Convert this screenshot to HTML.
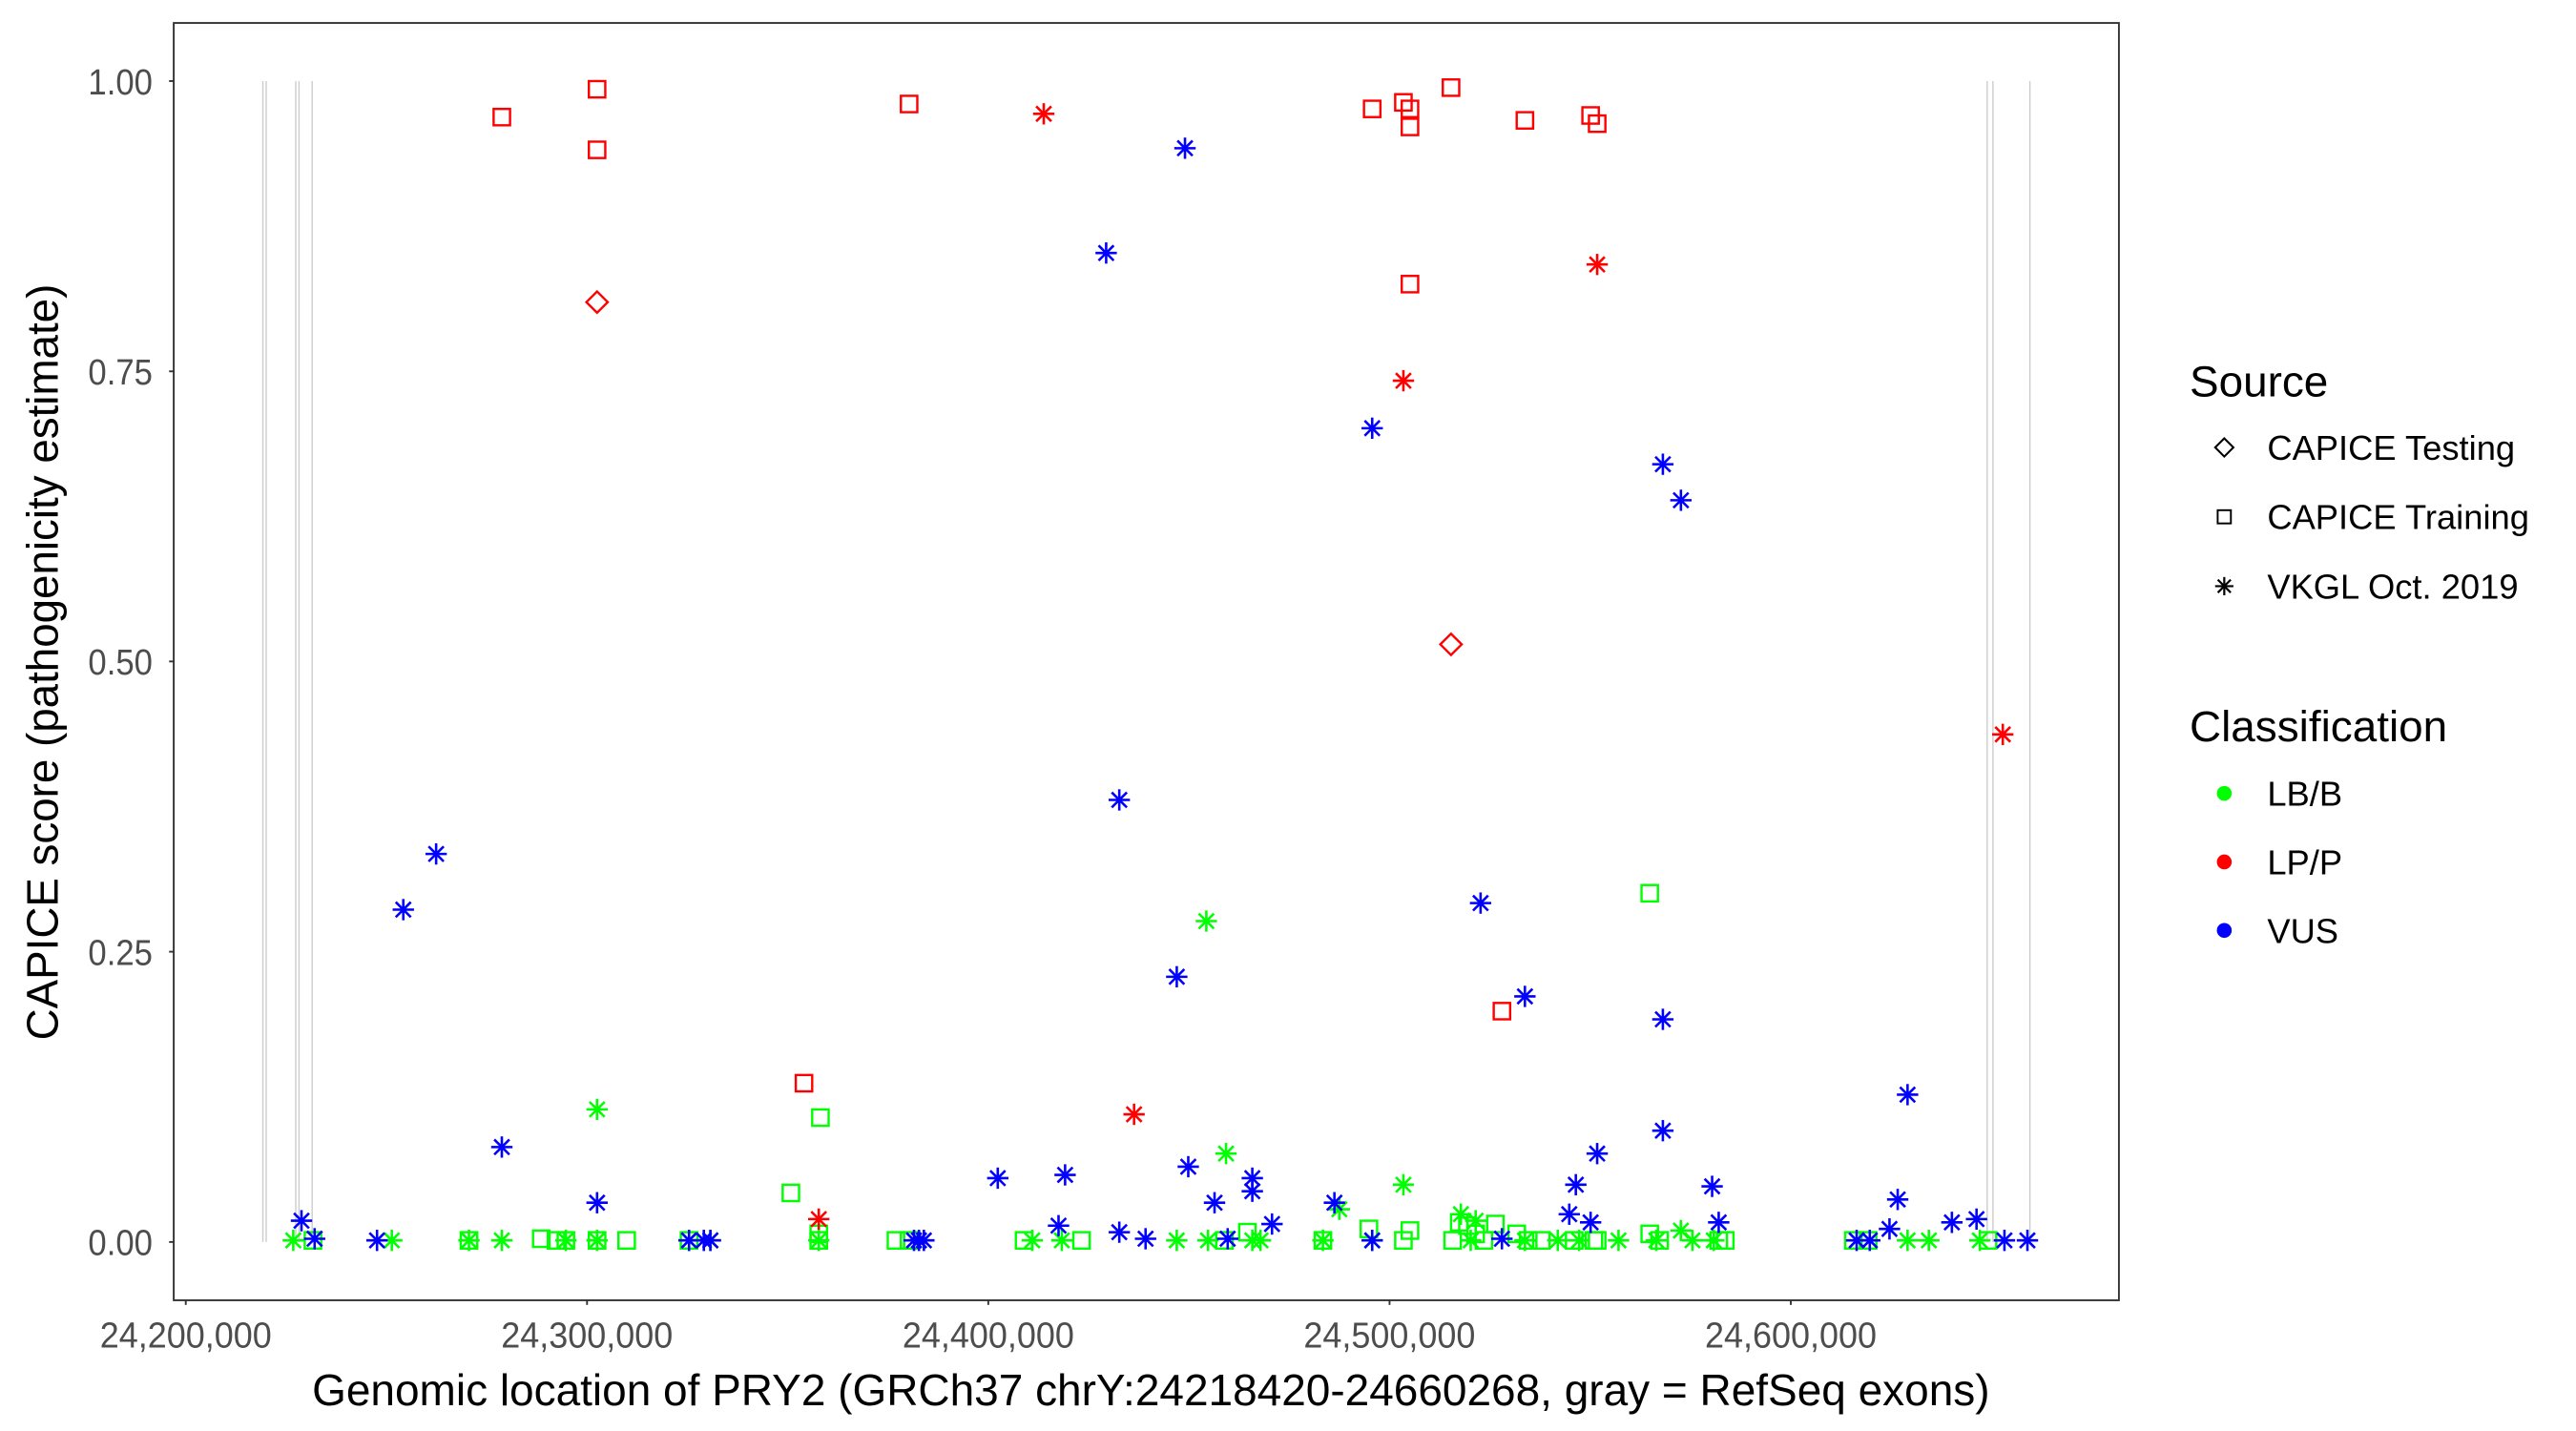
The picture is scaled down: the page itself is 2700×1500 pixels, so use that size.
<!DOCTYPE html>
<html><head><meta charset="utf-8"><style>
html,body{margin:0;padding:0;background:#fff;}
svg{display:block;font-family:"Liberation Sans",Arial,sans-serif;}
</style></head><body>
<svg width="2700" height="1500" viewBox="0 0 1560 866.67" xmlns="http://www.w3.org/2000/svg">
<defs>
<g id="sq" fill="none"><rect x="-5" y="-5" width="10" height="10" stroke-width="1.4"/></g>
<g id="di" fill="none"><polygon points="0,-6.5 6.5,0 0,6.5 -6.5,0" stroke-width="1.4"/></g>
<g id="as" stroke-width="1.5"><line x1="0" y1="-6.5" x2="0" y2="6.5"/><line x1="-6.5" y1="0" x2="6.5" y2="0"/><line x1="-4.6" y1="-4.6" x2="4.6" y2="4.6"/><line x1="-4.6" y1="4.6" x2="4.6" y2="-4.6"/></g>
</defs>
<rect width="1560" height="866.67" fill="#fff"/>
<g transform="matrix(0.9945 0 0 1 0.58 0)">
<g stroke="#cccccc" stroke-width="0.8">
<line x1="159.5" y1="49.1" x2="159.5" y2="752.2"/><line x1="161.5" y1="49.1" x2="161.5" y2="752.2"/>
<line x1="179.5" y1="49.1" x2="179.5" y2="752.2"/><line x1="181.5" y1="49.1" x2="181.5" y2="752.2"/>
<line x1="189.5" y1="49.1" x2="189.5" y2="752.2"/>
<line x1="1209.5" y1="49.1" x2="1209.5" y2="752.2"/><line x1="1213" y1="49.1" x2="1213" y2="752.2"/>
<line x1="1235.5" y1="49.1" x2="1235.5" y2="752.2"/>
</g>
</g>
<g transform="matrix(0.9945 0 0 0.9917 0.58 1.5)">
<g stroke="#00ff00">
<use href="#sq" x="1004" y="544"/><use href="#sq" x="499" y="681"/><use href="#sq" x="481" y="727"/>
<use href="#sq" x="285" y="756"/><use href="#sq" x="329" y="755"/><use href="#sq" x="338" y="756"/><use href="#sq" x="344" y="756"/><use href="#sq" x="363" y="756"/><use href="#sq" x="381" y="756"/><use href="#sq" x="419" y="756"/><use href="#sq" x="498" y="752"/><use href="#sq" x="498" y="756"/><use href="#sq" x="545" y="756"/><use href="#sq" x="553" y="756"/><use href="#sq" x="623" y="756"/><use href="#sq" x="658" y="756"/><use href="#sq" x="745" y="756"/><use href="#sq" x="759" y="751"/><use href="#sq" x="805" y="756"/><use href="#sq" x="833" y="749"/><use href="#sq" x="858" y="750"/><use href="#sq" x="854" y="756"/><use href="#sq" x="884" y="756"/><use href="#sq" x="888" y="745"/><use href="#sq" x="893" y="747"/><use href="#sq" x="898" y="752"/><use href="#sq" x="903" y="756"/><use href="#sq" x="910" y="746"/><use href="#sq" x="923" y="752"/><use href="#sq" x="930" y="756"/><use href="#sq" x="938" y="756"/><use href="#sq" x="958" y="756"/><use href="#sq" x="970" y="756"/><use href="#sq" x="1004" y="752"/><use href="#sq" x="1010" y="756"/><use href="#sq" x="1050" y="756"/><use href="#sq" x="1210" y="756"/><use href="#sq" x="1128" y="756"/><use href="#sq" x="1137" y="756"/><use href="#sq" x="1046" y="756"/><use href="#sq" x="190" y="756"/><use href="#sq" x="972" y="756"/>
</g>
<g stroke="#00ff00">
<use href="#as" x="363" y="676"/><use href="#as" x="734" y="561"/><use href="#as" x="746" y="703"/><use href="#as" x="854" y="722"/><use href="#as" x="815" y="737"/><use href="#as" x="889" y="740"/><use href="#as" x="898" y="744"/><use href="#as" x="1023" y="750"/><use href="#as" x="178" y="756"/><use href="#as" x="238" y="756"/><use href="#as" x="285" y="756"/><use href="#as" x="305" y="756"/><use href="#as" x="344" y="756"/><use href="#as" x="363" y="756"/><use href="#as" x="419" y="756"/><use href="#as" x="432" y="756"/><use href="#as" x="498" y="756"/><use href="#as" x="628" y="756"/><use href="#as" x="646" y="756"/><use href="#as" x="716" y="756"/><use href="#as" x="735" y="756"/><use href="#as" x="767" y="756"/><use href="#as" x="805" y="756"/><use href="#as" x="835" y="756"/><use href="#as" x="895" y="756"/><use href="#as" x="928" y="756"/><use href="#as" x="948" y="756"/><use href="#as" x="985" y="756"/><use href="#as" x="1030" y="756"/><use href="#as" x="1161" y="756"/><use href="#as" x="1174" y="756"/><use href="#as" x="1205" y="756"/><use href="#as" x="1043" y="756"/><use href="#as" x="762" y="756"/><use href="#as" x="1008" y="756"/><use href="#as" x="961" y="756"/>
</g>
<g stroke="#0000ff">
<use href="#as" x="721" y="89"/><use href="#as" x="673" y="153"/><use href="#as" x="835" y="260"/><use href="#as" x="1012" y="282"/><use href="#as" x="1023" y="304"/><use href="#as" x="681" y="487"/><use href="#as" x="265" y="520"/><use href="#as" x="245" y="554"/><use href="#as" x="901" y="550"/><use href="#as" x="716" y="595"/><use href="#as" x="928" y="607"/><use href="#as" x="1012" y="621"/><use href="#as" x="305" y="699"/><use href="#as" x="363" y="733"/><use href="#as" x="1161" y="667"/><use href="#as" x="1012" y="689"/><use href="#as" x="972" y="703"/><use href="#as" x="607" y="718"/><use href="#as" x="648" y="716"/><use href="#as" x="723" y="711"/><use href="#as" x="762" y="718"/><use href="#as" x="762" y="726"/><use href="#as" x="739" y="733"/><use href="#as" x="959" y="722"/><use href="#as" x="1042" y="723"/><use href="#as" x="812" y="733"/><use href="#as" x="1155" y="731"/><use href="#as" x="644" y="747"/><use href="#as" x="955" y="740"/><use href="#as" x="968" y="745"/><use href="#as" x="1046" y="745"/><use href="#as" x="774" y="746"/><use href="#as" x="183" y="744"/><use href="#as" x="1150" y="749"/><use href="#as" x="1188" y="745"/><use href="#as" x="1203" y="743"/><use href="#as" x="681" y="751"/><use href="#as" x="191" y="755"/><use href="#as" x="229" y="756"/><use href="#as" x="419" y="756"/><use href="#as" x="428" y="756"/><use href="#as" x="432" y="756"/><use href="#as" x="556" y="756"/><use href="#as" x="559" y="756"/><use href="#as" x="562" y="756"/><use href="#as" x="697" y="755"/><use href="#as" x="747" y="755"/><use href="#as" x="835" y="756"/><use href="#as" x="914" y="755"/><use href="#as" x="1130" y="756"/><use href="#as" x="1138" y="756"/><use href="#as" x="1220" y="756"/><use href="#as" x="1234" y="756"/>
</g>
<g stroke="#ff0000">
<use href="#sq" x="305" y="70"/><use href="#sq" x="363" y="53"/><use href="#sq" x="363" y="90"/><use href="#sq" x="553" y="62"/><use href="#sq" x="835" y="65"/><use href="#sq" x="854" y="61"/><use href="#sq" x="858" y="65"/><use href="#sq" x="858" y="76"/><use href="#sq" x="883" y="52"/><use href="#sq" x="928" y="72"/><use href="#sq" x="968" y="69"/><use href="#sq" x="972" y="74"/><use href="#sq" x="858" y="172"/><use href="#sq" x="914" y="616"/><use href="#sq" x="489" y="660"/>
<use href="#di" x="363" y="183"/><use href="#di" x="883" y="392"/>
<use href="#as" x="635" y="68"/><use href="#as" x="972" y="160"/><use href="#as" x="854" y="231"/><use href="#as" x="690" y="679"/><use href="#as" x="1219" y="447"/><use href="#as" x="498" y="743"/>
</g>
</g>
<rect x="105.2" y="13.9" width="1178" height="773.6" fill="none" stroke="#333" stroke-width="1.1"/>
<g stroke="#333" stroke-width="1.1">
<line x1="102.4" y1="49.1" x2="105.2" y2="49.1"/><line x1="102.4" y1="224.9" x2="105.2" y2="224.9"/><line x1="102.4" y1="400.6" x2="105.2" y2="400.6"/><line x1="102.4" y1="576.4" x2="105.2" y2="576.4"/><line x1="102.4" y1="752.2" x2="105.2" y2="752.2"/>
<line x1="112.5" y1="787.5" x2="112.5" y2="790.3"/><line x1="355.5" y1="787.5" x2="355.5" y2="790.3"/><line x1="598.5" y1="787.5" x2="598.5" y2="790.3"/><line x1="841.5" y1="787.5" x2="841.5" y2="790.3"/><line x1="1084.5" y1="787.5" x2="1084.5" y2="790.3"/>
</g>
<g fill="#4d4d4d" font-size="22" text-anchor="end">
<text x="92.4" y="57.1" textLength="39" lengthAdjust="spacingAndGlyphs">1.00</text><text x="92.4" y="232.9" textLength="39" lengthAdjust="spacingAndGlyphs">0.75</text><text x="92.4" y="408.6" textLength="39" lengthAdjust="spacingAndGlyphs">0.50</text><text x="92.4" y="584.4" textLength="39" lengthAdjust="spacingAndGlyphs">0.25</text><text x="92.4" y="760.2" textLength="39" lengthAdjust="spacingAndGlyphs">0.00</text>
</g>
<g fill="#4d4d4d" font-size="22" text-anchor="middle">
<text x="112.5" y="816" textLength="104" lengthAdjust="spacingAndGlyphs">24,200,000</text><text x="355.5" y="816" textLength="104" lengthAdjust="spacingAndGlyphs">24,300,000</text><text x="598.5" y="816" textLength="104" lengthAdjust="spacingAndGlyphs">24,400,000</text><text x="841.5" y="816" textLength="104" lengthAdjust="spacingAndGlyphs">24,500,000</text><text x="1084.5" y="816" textLength="104" lengthAdjust="spacingAndGlyphs">24,600,000</text>
</g>
<text x="697" y="851" font-size="27" text-anchor="middle" fill="#000" textLength="1016" lengthAdjust="spacingAndGlyphs">Genomic location of PRY2 (GRCh37 chrY:24218420-24660268, gray = RefSeq exons)</text>
<text transform="translate(35,401) rotate(-90)" font-size="27" text-anchor="middle" fill="#000" textLength="458" lengthAdjust="spacingAndGlyphs">CAPICE score (pathogenicity estimate)</text>
<text x="1326" y="240" font-size="26.5" fill="#000">Source</text>
<g stroke="#000"><use href="#di" transform="translate(1347 271) scale(0.85)"/><use href="#sq" transform="translate(1347 313) scale(0.8)"/><use href="#as" transform="translate(1347 355) scale(0.85)"/></g>
<g font-size="21" fill="#000"><text x="1373" y="278.5">CAPICE Testing</text><text x="1373" y="320.5">CAPICE Training</text><text x="1373" y="362.5">VKGL Oct. 2019</text></g>
<text x="1326" y="449" font-size="26.5" fill="#000">Classification</text>
<circle cx="1347" cy="480.5" r="4.5" fill="#00ff00"/><circle cx="1347" cy="522" r="4.5" fill="#ff0000"/><circle cx="1347" cy="563.5" r="4.5" fill="#0000ff"/>
<g font-size="21" fill="#000"><text x="1373" y="488">LB/B</text><text x="1373" y="529.5">LP/P</text><text x="1373" y="571">VUS</text></g>
</svg>
</body></html>
